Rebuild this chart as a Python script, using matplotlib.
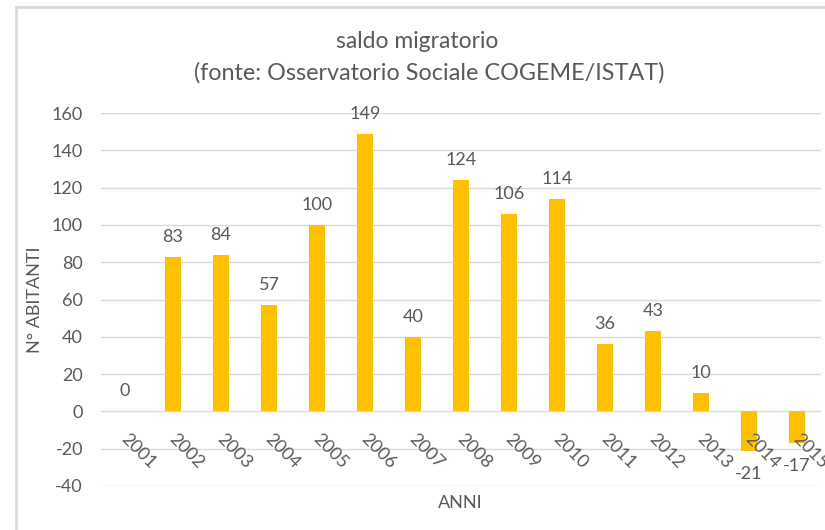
import numpy as np
import matplotlib
matplotlib.use("Agg")
import matplotlib.pyplot as plt
from matplotlib.patches import Rectangle

anni = ["2001", "2002", "2003", "2004", "2005", "2006", "2007", "2008",
        "2009", "2010", "2011", "2012", "2013", "2014", "2015"]
saldo = [0, 83, 84, 57, 100, 149, 40, 124, 106, 114, 36, 43, 10, -21, -17]
yticks = [-40, -20, 0, 20, 40, 60, 80, 100, 120, 140, 160]

plt.rcParams['font.family'] = ['Lato', 'DejaVu Sans']
grigio = '#595959'

fig = plt.figure(figsize=(8.25, 5.3), dpi=100)
fig.add_artist(Rectangle((16/825, -0.01), 1.0, 1 - 7/530 + 0.01, transform=fig.transFigure,
                         fill=False, edgecolor='#D9D9D9', lw=2))
ax = fig.add_axes([101/825, 44/530, 720/825, 373/530])

x = np.arange(len(anni))
ax.bar(x, saldo, width=0.33, color='#FFC000', zorder=3)
ax.set_xlim(-0.5, len(anni) - 0.5)
ax.set_ylim(-40, 160)
ax.set_yticks(yticks)
ax.set_yticklabels([str(v) for v in yticks], fontsize=13, color=grigio)
ax.tick_params(axis='y', length=0, pad=13)
ax.set_xticks([])
ax.grid(axis='y', color='#D9D9D9', lw=1, zorder=0)
for s in ax.spines.values():
    s.set_visible(False)

for i, v in enumerate(saldo):
    off = 20 if v >= 0 else -23
    ax.annotate(str(v), (i, v), xytext=(0, off * 0.72), textcoords='offset points',
                ha='center', va='center', fontsize=13, color=grigio)
    ax.annotate(anni[i], (i, 0), xytext=(-1, -18), textcoords='offset points',
                rotation=-45, rotation_mode='anchor', ha='left', va='center',
                fontsize=13, color=grigio)

fig.text(417/825, 1 - 42/530, "saldo migratorio", ha='center', va='center',
         fontsize=16.5, color=grigio)
fig.text(429/825, 1 - 73/530, "(fonte: Osservatorio Sociale COGEME/ISTAT)", ha='center',
         va='center', fontsize=16.8, color=grigio)
fig.text(35/825, 1 - 300/530, "N° ABITANTI", rotation=90, ha='center', va='center',
         fontsize=13, color=grigio)
fig.text(460/825, 1 - 503/530, "ANNI", ha='center', va='center', fontsize=13, color=grigio)

fig.savefig("out.png", dpi=100, facecolor='white')
